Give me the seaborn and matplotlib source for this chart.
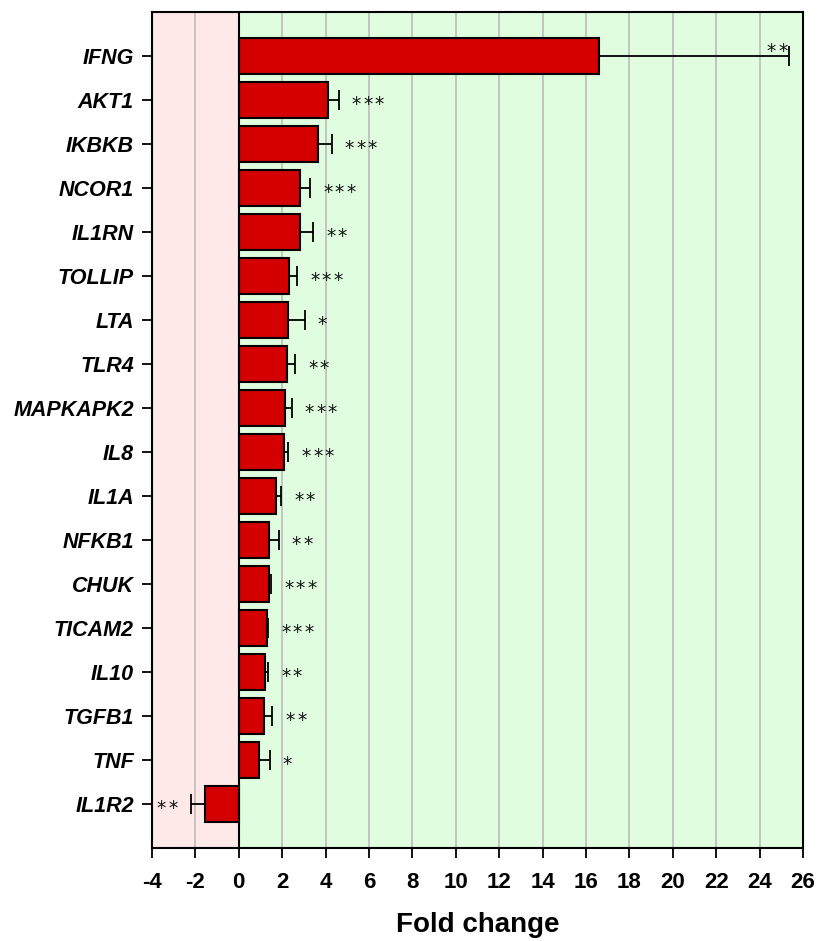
import pandas as pd
import matplotlib.pyplot as plt
import seaborn as sns

genes = ["IFNG", "AKT1", "IKBKB", "NCOR1", "IL1RN", "TOLLIP", "LTA", "TLR4",
         "MAPKAPK2", "IL8", "IL1A", "NFKB1", "CHUK", "TICAM2", "IL10",
         "TGFB1", "TNF", "IL1R2"]
fold = [16.6, 4.1, 3.65, 2.82, 2.8, 2.32, 2.27, 2.22, 2.12, 2.08, 1.71,
        1.38, 1.38, 1.28, 1.23, 1.18, 0.94, -1.58]
err = [8.75, 0.5, 0.63, 0.47, 0.63, 0.36, 0.76, 0.38, 0.31, 0.2, 0.24,
       0.45, 0.1, 0.07, 0.11, 0.37, 0.48, 0.64]
sig = ["**", "***", "***", "***", "**", "***", "*", "**", "***", "***", "**",
       "**", "***", "***", "**", "**", "*", "**"]
xticks = list(range(-4, 27, 2))


def stars(ax, x, y, n, side, dx=9.5, dy=-7.2, step=8.3):
    # one asterisk per annotation so the spacing matches the original
    for k in range(n):
        if side == "right":
            off, ha = dx + k * step, "left"
        else:
            off, ha = -dx - k * step, "right"
        ax.annotate("*", xy=(x, y), xytext=(off, dy),
                    textcoords="offset points", ha=ha, va="baseline",
                    fontsize=13.5, family="DejaVu Sans", color="#111111",
                    zorder=4)


def main():
    df = pd.DataFrame({"gene": genes, "fold": fold, "err": err, "sig": sig})

    sns.set_theme(style="white")
    plt.rcParams['font.family'] = ['Liberation Sans', 'DejaVu Sans']
    plt.rcParams['text.color'] = 'black'
    plt.rcParams['xtick.color'] = 'black'
    plt.rcParams['ytick.color'] = 'black'
    plt.rcParams['axes.labelcolor'] = 'black'

    fig = plt.figure(figsize=(8.23, 9.41), dpi=100)
    ax = fig.add_axes([0.1847, 0.0988, 0.7910, 0.8885])

    ax.axvspan(-4, 0, color="#ffe8e8", zorder=0, lw=0)
    ax.axvspan(0, 26, color="#e0fde0", zorder=0, lw=0)
    for t in xticks[1:-1]:
        if t != 0:
            ax.axvline(t, color="#c0c0c0", lw=1.3, zorder=0.5)

    sns.barplot(data=df, x="fold", y="gene", orient="h", color="#d40000",
                saturation=1, edgecolor="black", linewidth=1.5, width=0.8,
                errorbar=None, ax=ax, zorder=2)

    for i, (v, e, s) in enumerate(zip(fold, err, sig)):
        sgn = 1 if v >= 0 else -1
        ax.errorbar(v, i, xerr=[[0], [e]] if sgn > 0 else [[e], [0]],
                    fmt="none", ecolor="black", elinewidth=1.3,
                    capsize=7, capthick=1.3, zorder=3)
        end = v + sgn * e
        if i == 0:
            stars(ax, end, i, len(s), "left", dx=1, dy=-0.5)
        elif sgn > 0:
            stars(ax, end, i, len(s), "right")
        else:
            stars(ax, end, i, len(s), "left")

    ax.axvline(0, color="black", lw=1.5, zorder=2.5)
    ax.set_xlim(-4, 26)
    ax.set_ylim(len(genes), -1)
    ax.set_xticks(xticks)
    ax.set_xticklabels([str(t) for t in xticks], fontsize=16,
                       fontweight="bold")
    ax.set_yticks(list(range(len(genes))))
    ax.set_yticklabels(genes, fontsize=15.5, fontweight="bold",
                       fontstyle="italic")
    ax.tick_params(axis="both", direction="out", length=7, width=1.3,
                   bottom=True, left=True)
    ax.tick_params(axis="x", pad=10)
    ax.tick_params(axis="y", pad=6)
    ax.set_ylabel("")
    ax.set_xlabel("Fold change", fontsize=20, fontweight="bold", labelpad=14)
    for sp in ax.spines.values():
        sp.set_color("black")
        sp.set_linewidth(1.5)

    plt.savefig("out.png", dpi=100)
    plt.close()


if __name__ == "__main__":
    main()
